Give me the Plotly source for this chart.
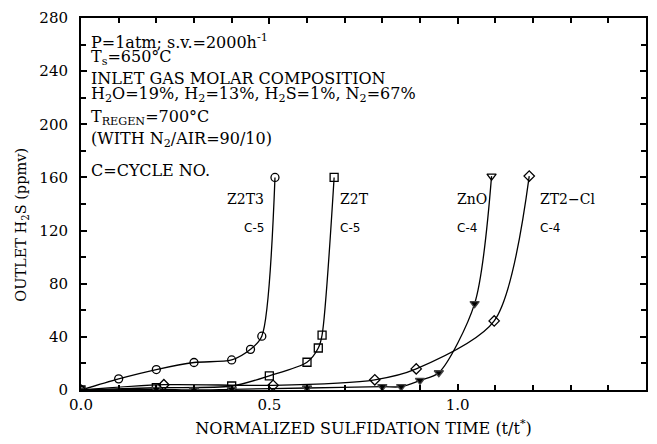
import plotly.graph_objects as go

# Z2T3 (C-5), open circles
z2t3_x = [0.0, 0.10, 0.20, 0.30, 0.40, 0.45, 0.48, 0.515]
z2t3_y = [0.0, 8.4, 15.4, 20.7, 22.6, 30.6, 40.5, 160.0]
# Z2T (C-5), open squares
z2t_x = [0.0, 0.20, 0.40, 0.50, 0.60, 0.63, 0.64, 0.672]
z2t_y = [0.0, 1.7, 3.0, 10.7, 20.9, 31.6, 41.3, 160.0]
# ZnO (C-4), filled down-triangles (last open)
zno_x = [0.0, 0.20, 0.30, 0.40, 0.60, 0.80, 0.85, 0.90, 0.95, 1.045, 1.09]
zno_y = [0.0, 0.5, 0.0, 0.5, 1.5, 2.5, 2.5, 7.2, 13.0, 65.0, 161.0]
zno_sym = ["triangle-down"] * 10 + ["triangle-down-open"]
# ZT2-Cl (C-4), open diamonds
zt2_x = [0.0, 0.22, 0.51, 0.78, 0.89, 1.097, 1.19]
zt2_y = [0.0, 4.0, 3.5, 7.7, 15.9, 52.0, 161.0]

# (name, cycle, x, anchor)
series_labels = [("Z2T3", "C-5", 0.49, "right"), ("Z2T", "C-5", 0.683, "left"),
                 ("ZnO", "C-4", 0.992, "left"), ("ZT2−Cl", "C-4", 1.212, "left")]

fig = go.Figure()
line = dict(color="black", width=1.3, shape="spline", smoothing=0.8)
fig.add_trace(go.Scatter(x=z2t3_x, y=z2t3_y, mode="lines+markers", line=line,
                         marker=dict(symbol="circle-open", size=8, color="black", line=dict(width=1.3))))
fig.add_trace(go.Scatter(x=z2t_x, y=z2t_y, mode="lines+markers", line=line,
                         marker=dict(symbol="square-open", size=8, color="black", line=dict(width=1.3))))
fig.add_trace(go.Scatter(x=zno_x, y=zno_y, mode="lines+markers", line=line,
                         marker=dict(symbol=zno_sym, size=8, color="black", line=dict(width=1.3))))
fig.add_trace(go.Scatter(x=zt2_x, y=zt2_y, mode="lines+markers", line=line,
                         marker=dict(symbol="diamond-open", size=8, color="black", line=dict(width=1.3))))

annots = []
for name, cyc, xpos, anc in series_labels:
    annots.append(dict(x=xpos, y=144, text=name, showarrow=False, xanchor=anc, yanchor="middle",
                       font=dict(family="DejaVu Serif", size=14, color="black")))
    annots.append(dict(x=xpos, y=122, text=cyc, showarrow=False, xanchor=anc, yanchor="middle",
                       font=dict(family="DejaVu Sans", size=12, color="black")))

info_lines = [
    ("P=1atm; s.v.=2000h<sup>-1</sup>", 262.6),
    ("T<sub>s</sub>=650°C", 250.0),
    ("INLET GAS MOLAR COMPOSITION", 234.3),
    ("H<sub>2</sub>O=19%, H<sub>2</sub>=13%, H<sub>2</sub>S=1%, N<sub>2</sub>=67%", 222.6),
    ("T<sub>REGEN</sub>=700°C", 204.8),
    ("(WITH N<sub>2</sub>/AIR=90/10)", 188.4),
    ("C=CYCLE NO.", 165.3),
]
for txt, yv in info_lines:
    annots.append(dict(x=0.02, y=yv, text=txt, showarrow=False, xanchor="left", yanchor="middle",
                       font=dict(family="DejaVu Serif", size=16, color="black")))

# y-axis title as rotated annotation
annots.append(dict(xref="paper", yref="paper", x=-0.104, y=0.445, text="OUTLET H<sub>2</sub>S (ppmv)",
                   textangle=-90, showarrow=False, xanchor="center", yanchor="middle",
                   font=dict(family="DejaVu Serif", size=14.5, color="black")))

fig.update_layout(
    width=657, height=444,
    margin=dict(l=81, r=9, t=17, b=51),
    paper_bgcolor="white", plot_bgcolor="white",
    showlegend=False,
    annotations=annots,
    xaxis=dict(range=[0, 1.5], tickvals=[0, 0.5, 1.0, 1.5], ticktext=["0.0", "0.5", "1.0", "1.5"],
               ticks="inside", ticklen=6, tickcolor="black", tickwidth=1.5,
               minor=dict(dtick=0.1, ticks="inside", ticklen=5, tickcolor="black", tickwidth=1.5),
               showline=True, linecolor="black", linewidth=2, mirror="ticks", showgrid=False, zeroline=False,
               tickfont=dict(family="DejaVu Serif", size=15, color="black"),
               title=dict(text="NORMALIZED SULFIDATION TIME (t/t<sup>*</sup>)", standoff=10,
                          font=dict(family="DejaVu Serif", size=16, color="black"))),
    yaxis=dict(range=[0, 280], dtick=40, ticks="inside", ticklen=6, tickcolor="black", tickwidth=1.5,
               minor=dict(dtick=20, ticks="inside", ticklen=5, tickcolor="black", tickwidth=1.5),
               showline=True, linecolor="black", linewidth=2, mirror="ticks", showgrid=False, zeroline=False,
               ticklabelstandoff=8,
               tickfont=dict(family="DejaVu Serif", size=15, color="black")),
)
fig.write_html("out.html")
